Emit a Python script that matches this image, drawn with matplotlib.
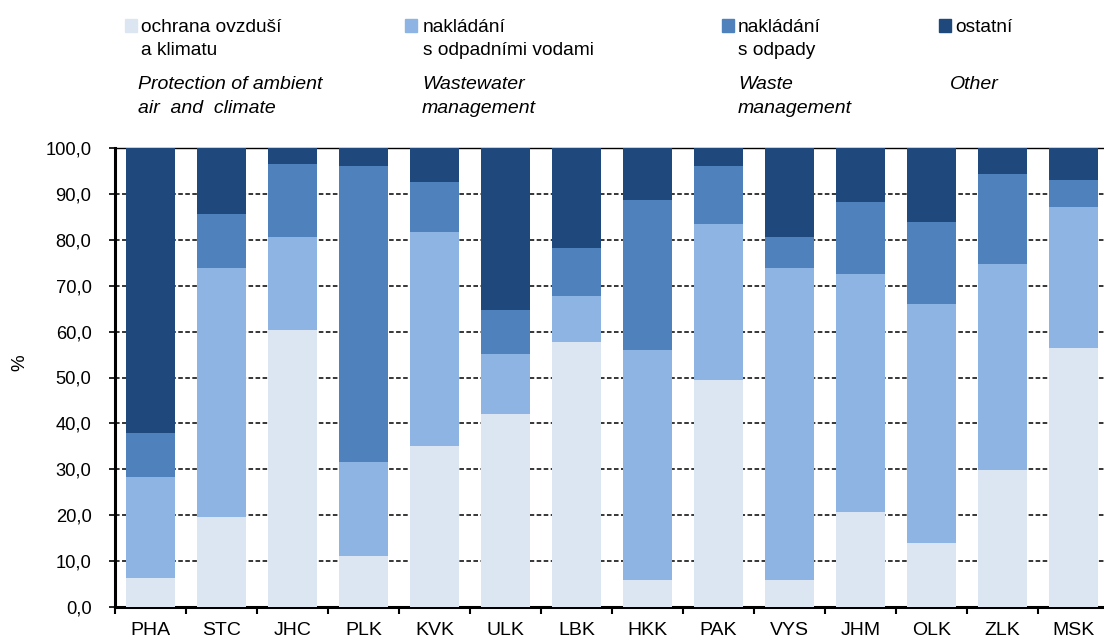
import matplotlib
matplotlib.use("Agg")
import matplotlib.pyplot as plt
from matplotlib.patches import Rectangle
import numpy as np

plt.rcParams['font.family'] = ['Liberation Sans', 'DejaVu Sans']

regions = ["PHA", "STC", "JHC", "PLK", "KVK", "ULK", "LBK", "HKK", "PAK", "VYS", "JHM", "OLK", "ZLK", "MSK"]
air = [6.2, 19.6, 60.3, 11.0, 35.0, 42.0, 57.7, 5.8, 49.5, 5.8, 20.7, 14.0, 29.8, 56.4]
wastewater = [22.2, 54.2, 20.4, 20.5, 46.7, 13.1, 10.1, 50.1, 33.9, 68.0, 51.8, 52.0, 44.9, 30.9]
waste = [9.6, 11.9, 15.9, 64.6, 10.9, 9.6, 10.4, 32.8, 12.7, 6.9, 15.7, 17.9, 19.6, 5.7]
other = [62.0, 14.3, 3.4, 3.9, 7.4, 35.3, 21.8, 11.3, 3.9, 19.3, 11.8, 16.1, 5.7, 7.0]

series = [air, wastewater, waste, other]
colors = ["#DCE6F2", "#8EB4E3", "#4F81BD", "#1F497D"]
labels_cz = ["ochrana ovzduší\na klimatu", "nakládání\ns odpadními vodami", "nakládání\ns odpady", "ostatní"]
labels_en = ["Protection of ambient\nair  and  climate", "Wastewater\nmanagement", "Waste\nmanagement", "Other"]

W, H = 1104, 642
fig = plt.figure(figsize=(W / 100, H / 100), dpi=100)
ax = fig.add_axes([115 / W, 1 - 606.7 / H, (1109 - 115) / W, (606.7 - 148.3) / H])

x = np.arange(len(regions))
bottom = np.zeros(len(regions))
for vals, c in zip(series, colors):
    v = np.array(vals)
    ax.bar(x, v, bottom=bottom, width=0.70, color=c, zorder=3, linewidth=0)
    bottom += v

ax.set_xlim(-0.5, len(regions) - 0.5)
ax.set_ylim(0, 100)
yt = np.arange(0, 101, 10)
ax.set_yticks(yt)
ax.set_yticklabels([f"{v:.1f}".replace(".", ",") for v in yt], fontsize=13.2)
ax.yaxis.grid(True, color="black", linestyle=(0, (3, 1.6)), linewidth=1.1, zorder=0)
ax.set_axisbelow(True)

ax.set_xticks(np.arange(-0.5, len(regions), 1.0))
ax.set_xticklabels([])
ax.set_xticks(x, minor=True)
ax.set_xticklabels(regions, minor=True, fontsize=14)
ax.tick_params(axis='x', which='major', length=5, width=1.5, direction='out')
ax.tick_params(axis='x', which='minor', length=0, pad=11)
ax.tick_params(axis='y', length=4, width=1.2, direction='out', pad=13)

for s in ["left", "bottom"]:
    ax.spines[s].set_linewidth(2.2)
ax.spines["top"].set_linewidth(1.0)
ax.spines["right"].set_visible(False)

ax.set_ylabel("%", fontsize=13.5, va="center", ha="center")
ax.yaxis.set_label_coords((20 - 115) / 994, (606.7 - 363) / 458.4)

# legend-like header
sq_x = [125, 405, 722, 939]
txt_x = [141, 423, 738, 955]
en_x = [138, 422, 738, 950]
for i in range(4):
    fig.patches.append(Rectangle((sq_x[i] / W, 1 - 32 / H), 12 / W, 13 / H,
                                 transform=fig.transFigure, color=colors[i], figure=fig))
    lines = labels_cz[i].split("\n")
    for j, ln in enumerate(lines):
        fig.text(txt_x[i] / W, 1 - (32 + 23 * j) / H, ln, fontsize=13.8, va="baseline", ha="left")
    lines = labels_en[i].split("\n")
    for j, ln in enumerate(lines):
        fig.text(en_x[i] / W, 1 - (89 + 24 * j) / H, ln, fontsize=14, va="baseline", ha="left", style="italic")

fig.savefig("out.png", dpi=100)
